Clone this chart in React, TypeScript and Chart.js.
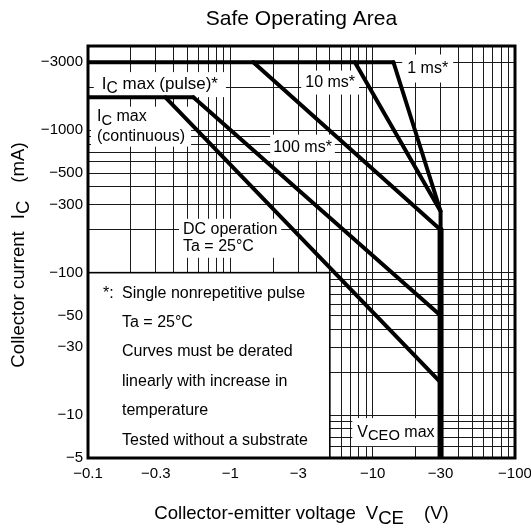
import React, { useEffect, useRef } from 'react';
import { Chart, registerables } from 'chart.js';

Chart.register(...registerables);

// ---------- data (magnitudes; labels carry the minus sign) ----------
const X_TICK_VALUES = [0.1, 0.3, 1, 3, 10, 30, 100];
const X_TICK_LABELS = ['\u22120.1', '\u22120.3', '\u22121', '\u22123', '\u221210', '\u221230', '\u2212100'];
const Y_TICK_VALUES = [5, 10, 30, 50, 100, 300, 500, 1000, 3000];
const Y_TICK_LABELS = ['\u22125', '\u221210', '\u221230', '\u221250', '\u2212100', '\u2212300', '\u2212500', '\u22121000', '\u22123000'];

const X_MIN = 0.1;
const X_MAX = 100;
const Y_MIN = 5;
const Y_MAX = 3900;

// V_CE (V) and I_C (mA) vertices of each boundary
const PULSE_MAX_V = [0.1, 14];
const PULSE_MAX_I = [3000, 3000];
const CONT_MAX_V = [0.1, 0.55];
const CONT_MAX_I = [1700, 1700];
const MS1_V = [14, 30, 30];
const MS1_I = [3000, 270, 5];
const MS10_V = [7.5, 30];
const MS10_I = [3000, 270];
const MS100_V = [1.45, 30];
const MS100_I = [3000, 200];
const PULSE_LONG_V = [0.55, 30];
const PULSE_LONG_I = [1700, 50];
const DC_V = [0.35, 30];
const DC_I = [1700, 17];
const VCEO_V = [30, 30];
const VCEO_I = [200, 5];

// notes box extent (data units)
const NOTE_BOX_V = [0.1, 5];
const NOTE_BOX_I = [5, 100];

const FONT = "'Liberation Sans', Arial, Helvetica, sans-serif";

type Part = { t?: string; sub?: boolean; gap?: number };

const sub = (t: string): Part => ({ t, sub: true });
const txt = (t: string): Part => ({ t });

// annotation labels, anchored at data coordinates (left edge / first-line middle)
const LABELS: { v: number; i: number; lines: Part[][]; gap: number; padX: number; padY: number; size: number }[] = [
  { v: 0.125, i: 2090, lines: [[txt('I'), sub('C'), txt(' max (pulse)*')]], gap: 0, padX: 8, padY: 4, size: 17 },
  { v: 0.1157, i: 1245, lines: [[txt('I'), sub('C'), txt(' max')], [txt('(continuous)')]], gap: 20, padX: 6, padY: 2, size: 16 },
  { v: 0.465, i: 200, lines: [[txt('DC operation')], [txt('Ta = 25\u00b0C')]], gap: 17, padX: 4, padY: 3, size: 16 },
  { v: 3.36, i: 2160, lines: [[txt('10 ms*')]], gap: 0, padX: 4, padY: 4, size: 16 },
  { v: 17.5, i: 2710, lines: [[txt('1 ms*')]], gap: 0, padX: 5, padY: 6, size: 16 },
  { v: 2.0, i: 754, lines: [[txt('100 ms*')]], gap: 0, padX: 3, padY: 5, size: 16 },
  { v: 7.8, i: 7.6, lines: [[txt('V'), sub('CEO'), txt(' max')]], gap: 0, padX: 5, padY: 6, size: 16 },
];

const NOTES: { star?: boolean; t: string }[] = [
  { star: true, t: 'Single nonrepetitive pulse' },
  { t: 'Ta = 25\u00b0C' },
  { t: 'Curves must be derated' },
  { t: 'linearly with increase in' },
  { t: 'temperature' },
  { t: 'Tested without a substrate' },
];

// ---------- helpers ----------
const toPoints = (vs: number[], is: number[]) => vs.map((v, k) => ({ x: v, y: is[k] }));

function logGrid(min: number, max: number) {
  const out: number[] = [];
  for (let e = Math.floor(Math.log10(min)); e <= Math.ceil(Math.log10(max)); e++) {
    for (let m = 1; m <= 9; m++) {
      const v = parseFloat((m * Math.pow(10, e)).toPrecision(6));
      if (v >= min - 1e-9 && v <= max + 1e-9) out.push(v);
    }
  }
  return out;
}

function partWidth(ctx: CanvasRenderingContext2D, parts: Part[], size: number, subScale = 0.92) {
  let w = 0;
  for (const p of parts) {
    if (p.gap) { w += p.gap; continue; }
    ctx.font = `${p.sub ? size * subScale : size}px ${FONT}`;
    w += ctx.measureText(p.t || '').width;
  }
  return w;
}

function drawParts(ctx: CanvasRenderingContext2D, parts: Part[], x: number, y: number, size: number, subScale = 0.92, subDrop = 4) {
  let cx = x;
  ctx.textBaseline = 'middle';
  ctx.textAlign = 'left';
  for (const p of parts) {
    if (p.gap) { cx += p.gap; continue; }
    ctx.font = `${p.sub ? size * subScale : size}px ${FONT}`;
    ctx.fillText(p.t || '', cx, p.sub ? y + subDrop : y);
    cx += ctx.measureText(p.t || '').width;
  }
}

const NOTE_SIZE = 16;
const AXIS_TITLE_SIZE = 18.6;

const overlay = {
  id: 'overlay',
  beforeDatasetsDraw(chart: any) {
    const { ctx } = chart;
    const xs = chart.scales.x;
    const ys = chart.scales.y;
    ctx.save();
    // notes box
    const bl = xs.getPixelForValue(NOTE_BOX_V[0]);
    const br = xs.getPixelForValue(NOTE_BOX_V[1]);
    const bb = ys.getPixelForValue(NOTE_BOX_I[0]);
    const bt = ys.getPixelForValue(NOTE_BOX_I[1]);
    ctx.fillStyle = '#fff';
    ctx.fillRect(bl, bt, br - bl, bb - bt);
    ctx.strokeStyle = '#000';
    ctx.lineWidth = 1.6;
    ctx.strokeRect(bl, bt, br - bl, bb - bt);
    // label backgrounds
    for (const L of LABELS) {
      const x0 = xs.getPixelForValue(L.v);
      const y0 = ys.getPixelForValue(L.i);
      const w = Math.max(...L.lines.map((ln) => partWidth(ctx, ln, L.size)));
      const h = (L.lines.length - 1) * L.gap;
      ctx.fillStyle = '#fff';
      ctx.fillRect(x0 - L.padX, y0 - L.size / 2 - L.padY, w + 2 * L.padX, h + L.size + 2 * L.padY);
    }
    ctx.restore();
  },
  afterDatasetsDraw(chart: any) {
    const { ctx, chartArea } = chart;
    const xs = chart.scales.x;
    const ys = chart.scales.y;
    ctx.save();
    // frame
    ctx.strokeStyle = '#000';
    ctx.lineWidth = 3;
    ctx.strokeRect(chartArea.left, chartArea.top, chartArea.right - chartArea.left, chartArea.bottom - chartArea.top);
    ctx.fillStyle = '#000';
    // labels
    for (const L of LABELS) {
      const x0 = xs.getPixelForValue(L.v);
      const y0 = ys.getPixelForValue(L.i);
      L.lines.forEach((ln, k) => drawParts(ctx, ln, x0, y0 + k * L.gap, L.size));
    }
    // notes text
    const bl = xs.getPixelForValue(NOTE_BOX_V[0]);
    const bt = ys.getPixelForValue(NOTE_BOX_I[1]);
    NOTES.forEach((n, k) => {
      const yy = bt + 20.5 + k * 29.4;
      if (n.star) drawParts(ctx, [txt('*:')], bl + 15, yy, NOTE_SIZE);
      drawParts(ctx, [txt(n.t)], bl + 34, yy, NOTE_SIZE);
    });
    ctx.restore();
  },
  afterDraw(chart: any) {
    const { ctx, chartArea } = chart;
    const cx = (chartArea.left + chartArea.right) / 2;
    const cy = (chartArea.top + chartArea.bottom) / 2;
    ctx.save();
    ctx.fillStyle = '#000';
    // title
    ctx.font = `21px ${FONT}`;
    ctx.textAlign = 'center';
    ctx.textBaseline = 'middle';
    ctx.fillText('Safe Operating Area', cx, 19.5);
    // x title
    const xParts: Part[] = [txt('Collector-emitter voltage'), { gap: 10 }, txt('V'), sub('CE'), { gap: 20 }, txt('(V)')];
    const xw = partWidth(ctx, xParts, AXIS_TITLE_SIZE, 1);
    drawParts(ctx, xParts, cx - xw / 2, 514, AXIS_TITLE_SIZE, 1, 5);
    // y title
    const yParts: Part[] = [txt('Collector current'), { gap: 12 }, txt('I'), sub('C'), { gap: 18 }, txt('(mA)')];
    const yw = partWidth(ctx, yParts, AXIS_TITLE_SIZE, 1);
    ctx.translate(19, cy + 3);
    ctx.rotate(-Math.PI / 2);
    drawParts(ctx, yParts, -yw / 2, 0, AXIS_TITLE_SIZE, 1, 5);
    ctx.restore();
  },
};

const lineDs = (label: string, vs: number[], is: number[], width = 4) => ({
  label,
  data: toPoints(vs, is),
  borderColor: '#000',
  backgroundColor: '#000',
  borderWidth: width,
  pointRadius: 0,
  tension: 0,
  fill: false,
  borderCapStyle: 'round',
  borderJoinStyle: 'miter',
});

export default function App() {
  const ref = useRef<HTMLCanvasElement>(null);
  useEffect(() => {
    const xGrid = logGrid(X_MIN, X_MAX);
    const yGrid = logGrid(Y_MIN, Y_MAX);
    const chart = new Chart(ref.current as HTMLCanvasElement, {
      type: 'line',
      data: {
        datasets: [
          lineDs('IC max (pulse)', PULSE_MAX_V, PULSE_MAX_I),
          lineDs('IC max (continuous)', CONT_MAX_V, CONT_MAX_I),
          lineDs('1 ms', MS1_V, MS1_I),
          lineDs('10 ms', MS10_V, MS10_I),
          lineDs('100 ms', MS100_V, MS100_I),
          lineDs('long pulse', PULSE_LONG_V, PULSE_LONG_I),
          lineDs('DC operation', DC_V, DC_I),
          lineDs('VCEO max', VCEO_V, VCEO_I, 6),
        ] as any,
      },
      options: {
        animation: false,
        responsive: false,
        devicePixelRatio: 1,
        layout: { padding: { top: 46, right: 16, left: 0, bottom: 0 } },
        plugins: { legend: { display: false }, tooltip: { enabled: false }, title: { display: false } },
        events: [],
        scales: {
          x: {
            type: 'logarithmic',
            min: X_MIN,
            max: X_MAX,
            border: { display: false },
            grid: { color: '#1a1a1a', lineWidth: 1, drawTicks: false },
            afterBuildTicks: (s: any) => { s.ticks = xGrid.map((v) => ({ value: v })); },
            afterFit: (s: any) => { s.height = 70; s.paddingLeft = 0; s.paddingRight = 0; },
            ticks: {
              autoSkip: false,
              maxRotation: 0,
              minRotation: 0,
              padding: 7,
              color: '#000',
              font: { family: FONT, size: 15 },
              callback: (v: any) => {
                const k = X_TICK_VALUES.findIndex((t) => Math.abs(t - Number(v)) < 1e-9);
                return k >= 0 ? X_TICK_LABELS[k] : '';
              },
            },
          },
          y: {
            type: 'logarithmic',
            min: Y_MIN,
            max: Y_MAX,
            border: { display: false },
            grid: { color: '#1a1a1a', lineWidth: 1, drawTicks: false },
            afterBuildTicks: (s: any) => { s.ticks = yGrid.map((v) => ({ value: v })); },
            afterFit: (s: any) => { s.width = 88; s.paddingTop = 0; s.paddingBottom = 0; },
            ticks: {
              autoSkip: false,
              padding: 5,
              color: '#000',
              font: { family: FONT, size: 15 },
              callback: (v: any) => {
                const k = Y_TICK_VALUES.findIndex((t) => Math.abs(t - Number(v)) < 1e-9);
                return k >= 0 ? Y_TICK_LABELS[k] : '';
              },
            },
          },
        },
      } as any,
      plugins: [overlay],
    });
    return () => chart.destroy();
  }, []);
  return (
    <div style={{ position: 'fixed', left: 0, top: 0, width: 531, height: 528, background: '#fff' }}>
      <canvas ref={ref} width={531} height={528} style={{ display: 'block' }} />
    </div>
  );
}
